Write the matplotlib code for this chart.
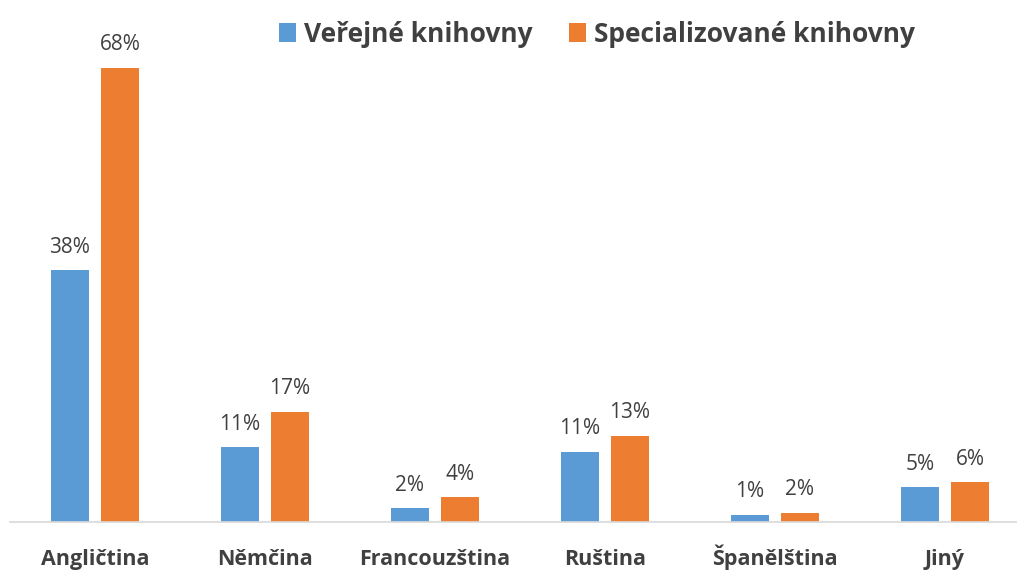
import matplotlib
matplotlib.use("Agg")
import matplotlib.pyplot as plt
import numpy as np

categories = ["Angličtina", "Němčina", "Francouzština", "Ruština", "Španělština", "Jiný"]
verejne = [37.7, 11.2, 2.1, 10.5, 1.1, 5.2]
specializovane = [68.0, 16.5, 3.7, 12.9, 1.4, 6.0]
verejne_labels = ["38%", "11%", "2%", "11%", "1%", "5%"]
specializovane_labels = ["68%", "17%", "4%", "13%", "2%", "6%"]

plt.rcParams["font.family"] = ["Open Sans", "DejaVu Sans"]

fig = plt.figure(figsize=(10.17, 5.7), dpi=100)
ax = fig.add_axes([0.0098, 0.084, 1.003, 0.879])

x = np.arange(len(categories))
w = 0.223
off = 0.147
b1 = ax.bar(x - off, verejne, w, color="#5b9bd5", label="Veřejné knihovny")
b2 = ax.bar(x + off, specializovane, w, color="#ed7d31", label="Specializované knihovny")

for bars, labels in ((b1, verejne_labels), (b2, specializovane_labels)):
    for bar, lab in zip(bars, labels):
        ax.annotate(lab, (bar.get_x() + bar.get_width() / 2, bar.get_height()),
                    xytext=(0, 9), textcoords="offset points",
                    ha="center", va="bottom", fontsize=15, color="#404040")

ax.set_xlim(-0.5, len(categories) - 0.5)
ax.set_ylim(0, 75)
ax.set_yticks([])
ax.set_xticks(x)
ax.set_xticklabels(categories, fontsize=15.5, fontweight="bold", color="#404040",
                   va="baseline")
ax.tick_params(axis="x", length=0, pad=31)
for s in ("top", "right", "left"):
    ax.spines[s].set_visible(False)
ax.spines["bottom"].set_color("#d9d9d9")
ax.spines["bottom"].set_linewidth(1.2)

fig.legend(loc="upper center", bbox_to_anchor=(0.587, 1.005), ncol=2, frameon=False,
           prop={"size": 19, "weight": "bold"}, labelcolor="#404040",
           handlelength=0.65, handleheight=0.7, handletextpad=0.3, columnspacing=1.4)

fig.savefig("out.png", dpi=100)
